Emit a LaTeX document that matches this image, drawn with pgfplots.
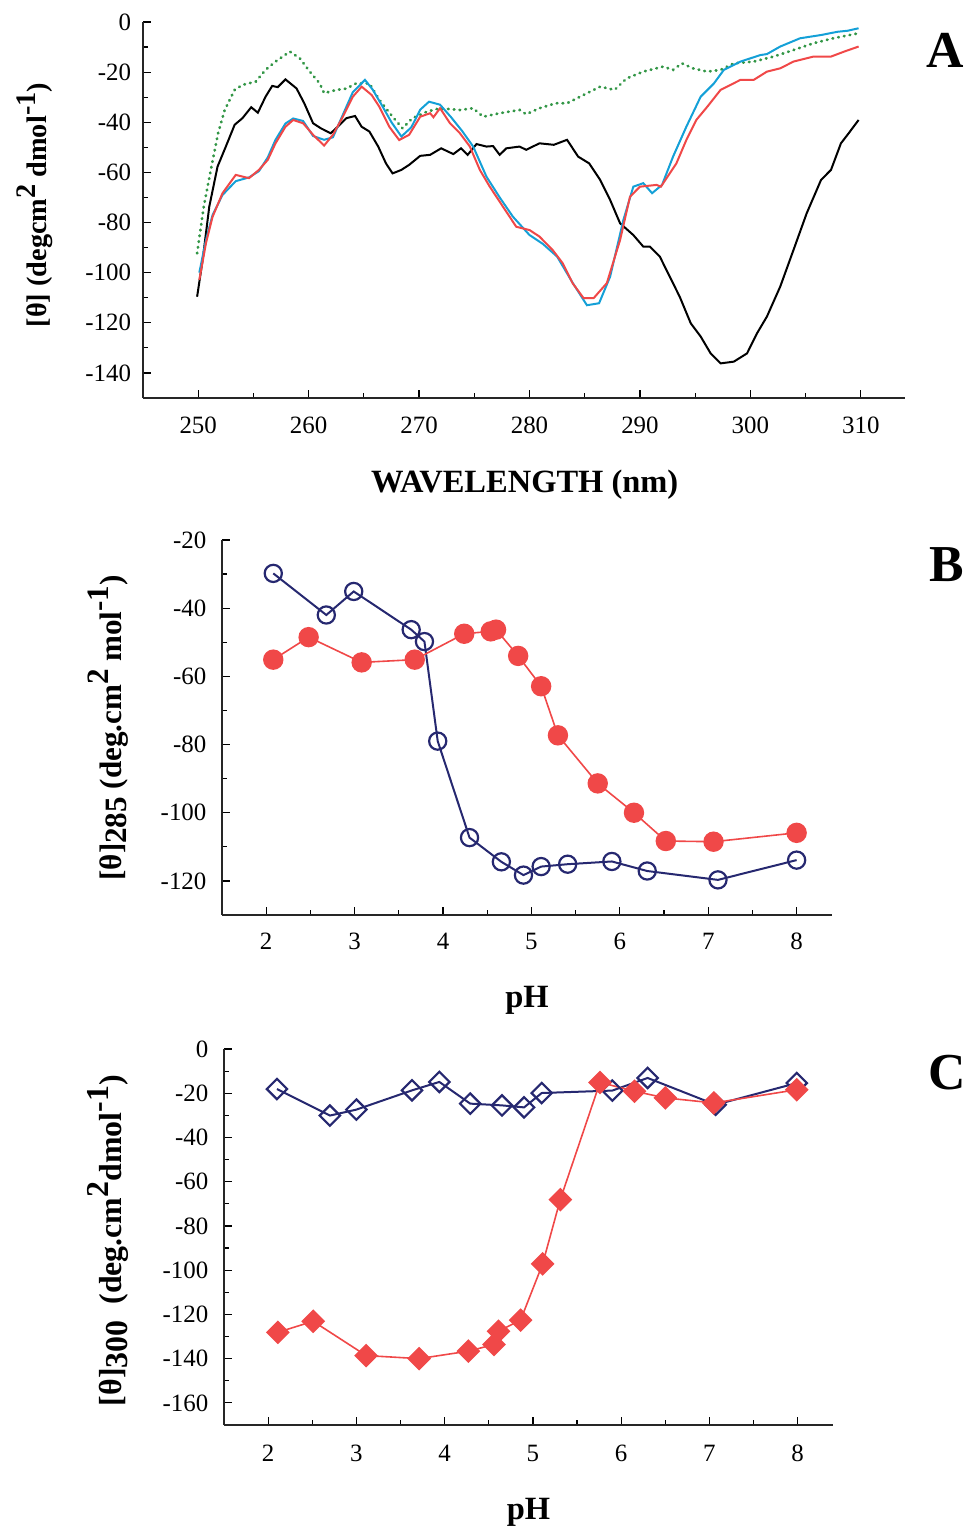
\documentclass[border=0pt]{standalone}
\usepackage{fontspec}
\setmainfont{Liberation Serif}
\usepackage{pgfplots}
\pgfplotsset{compat=1.18}
\definecolor{navy}{RGB}{38,40,112}
\definecolor{myred}{RGB}{240,72,72}
\definecolor{mycyan}{RGB}{20,160,215}
\definecolor{mygreen}{RGB}{50,150,70}
\pgfplotsset{common/.style={scale only axis, anchor=south west,
  axis x line*=bottom, axis y line*=left, tick align=inside,
  major tick length=4bp, minor tick length=2.5bp,
  every tick/.style={black, line width=0.6bp},
  axis line style={line width=0.8bp, black!85},
  tick label style={font=\fontsize{12.5}{14}\selectfont},
  /pgf/number format/assume math mode=true,
  xlabel style={font=\bfseries\fontsize{16.3}{18}\selectfont, anchor=center},
  ylabel style={font=\bfseries\fontsize{15.6}{18}\selectfont, anchor=center},
  clip=false}}
\begin{document}
\begin{tikzpicture}
\path[use as bounding box] (0,0) rectangle (483.5bp,764.5bp);
% Panel A
\begin{axis}[common, at={(71.5bp,565.5bp)}, width=381bp, height=188bp,
  xmin=245, xmax=314, ymin=-150, ymax=0,
  xtick={250,260,...,310}, minor xtick={255,265,...,305},
  ytick={-140,-120,...,0}, minor ytick={-150,-130,...,-10},
  xticklabel style={yshift=-6bp}, yticklabel style={xshift=-2.5bp},
  xlabel={WAVELENGTH (nm)},
  xlabel style={at={(axis description cs:0.501,-0.231)}},
  ylabel={[θ] (degcm\raisebox{0.9ex}{2} dmol\raisebox{0.9ex}{-1})},
  ylabel style={at={(axis description cs:-0.142,0.513)}, font=\bfseries\fontsize{14.2}{16}\selectfont}]
\addplot[black, line width=1bp] coordinates {(249.9,-109.6)(250.4,-95)(251.0,-73.7)(251.75,-57.7)(252.5,-49.7)(253.3,-41)(254,-38.4)(254.8,-34)(255.4,-36.2)(256.1,-29.8)(256.7,-25.5)(257.2,-26)(257.9,-22.9)(258.9,-26.5)(259.6,-32.4)(260.4,-40.4)(261.1,-42.4)(262.0,-44.4)(262.8,-41.1)(263.4,-38.4)(264.2,-37.5)(264.8,-41.8)(265.5,-43.7)(266.3,-49.7)(267.0,-56.4)(267.6,-60.4)(268.4,-59)(269.1,-57)(270.1,-53.4)(271.0,-53)(272.0,-50.4)(273.1,-52.7)(273.8,-50.4)(274.4,-53)(275.2,-48.7)(276.1,-49.7)(276.7,-49.5)(277.3,-53)(277.9,-50.4)(279.1,-49.7)(279.7,-51)(280.9,-48.4)(282.2,-49)(283.4,-47)(284.4,-53.7)(285.4,-56.4)(286.4,-63)(287.3,-71)(288.2,-80.3)(289.4,-85)(290.3,-89.6)(290.9,-89.6)(291.8,-93.6)(292.7,-101.6)(293.6,-109.6)(294.6,-120.2)(295.5,-125.5)(296.4,-132.2)(297.3,-136.2)(298.5,-135.5)(299.7,-132.2)(300.6,-124.2)(301.5,-117.5)(302.7,-105.6)(303.9,-91)(305.1,-76.3)(306.4,-63)(307.3,-59)(308.2,-48.4)(308.9,-44.4)(309.8,-39.1)};
\addplot[mygreen, line width=1.4bp, line cap=round, dash pattern=on 0.3bp off 2.6bp] coordinates {(249.9,-92.3)(250.5,-73.7)(251.2,-57.7)(251.8,-44.4)(252.4,-35.1)(253.3,-27.1)(254.0,-25.1)(255.2,-23.8)(256.1,-19.1)(257.0,-15.8)(258.3,-11.8)(259.2,-14.5)(260.1,-19.8)(261.0,-24.5)(261.4,-28.4)(262.5,-27.1)(263.4,-26.6)(264.3,-24.5)(265.5,-24.5)(266.4,-31.1)(267.6,-37.8)(268.5,-42.4)(269.4,-38.4)(270.7,-35.8)(271.9,-34.4)(273.7,-35.1)(274.9,-34.4)(275.8,-37.8)(277.3,-36.4)(279.1,-35.1)(279.7,-36.8)(280.9,-34.4)(282.4,-32.4)(283.4,-32.4)(284.9,-29.1)(286.4,-25.8)(287.7,-27.1)(288.8,-22.5)(290.3,-19.8)(292.1,-17.8)(293.0,-19.1)(293.8,-16.5)(294.8,-18.5)(296.1,-19.8)(297.3,-19.1)(298.5,-16.5)(300.3,-15.8)(302.1,-13.8)(303.9,-11.2)(305.7,-8.5)(307.5,-6.5)(309.8,-4.5)};
\addplot[mycyan, line width=1bp] coordinates {(250.1,-100)(250.7,-87)(251.3,-77)(252.2,-69)(253.4,-63.5)(254.6,-62)(255.5,-59.5)(256.3,-54)(257.0,-47)(257.9,-40.5)(258.6,-38.5)(259.5,-39.5)(260.4,-45.5)(261.4,-47)(262.2,-46)(263.1,-37)(264.0,-28)(265.1,-23.1)(265.8,-27)(266.6,-33)(267.5,-40)(268.4,-45.7)(269.3,-42)(270.1,-35)(270.9,-31.8)(271.9,-33)(272.9,-38)(273.9,-43.5)(274.9,-49.7)(276.1,-61.7)(277.3,-70)(278.5,-77.7)(280,-85)(281.2,-88.5)(282.5,-93.6)(283.9,-104)(285.2,-113)(286.3,-112.2)(287.3,-101.6)(288.5,-79)(289.4,-65.7)(290.3,-64.3)(291.1,-68.3)(292,-65)(293.0,-53.7)(294.2,-41.8)(295.5,-29.8)(296.7,-24.5)(297.6,-19.1)(299.1,-15.8)(300.9,-13.2)(301.5,-12.8)(302.7,-9.8)(304.5,-6.5)(306.4,-5.2)(307.9,-3.9)(308.8,-3.5)(309.8,-2.5)};
\addplot[myred, line width=1bp] coordinates {(250.1,-102.9)(250.7,-88.3)(251.3,-77.7)(252.2,-68.3)(253.4,-61)(254.6,-62.3)(255.5,-59)(256.3,-55)(257.0,-48.4)(257.9,-41.8)(258.6,-39.1)(259.5,-40.4)(260.4,-45)(261.4,-49.3)(262.2,-45)(263.1,-37.8)(264.0,-29.8)(264.8,-25.8)(265.7,-29.1)(266.4,-33.8)(267.3,-41.8)(268.2,-47.1)(269.1,-45)(270.1,-37.8)(271.0,-36.4)(271.3,-38)(271.9,-34.4)(272.8,-40.4)(273.7,-44.4)(274.6,-49.7)(275.5,-59)(276.4,-65.7)(277.6,-73.7)(278.8,-81.7)(280.0,-83)(280.9,-85.6)(282.1,-91)(283.0,-96.2)(283.9,-104.2)(284.9,-110.2)(285.8,-110.2)(287.0,-104.2)(288.2,-87)(289.1,-69.7)(290.0,-65.7)(291.5,-65)(291.9,-65.7)(293.3,-56.4)(294.2,-47.1)(295.1,-39.1)(296.1,-33.8)(297.3,-27.1)(299.1,-23.1)(300.3,-23.1)(301.5,-19.8)(302.7,-18.5)(303.9,-15.8)(305.7,-13.8)(307.3,-13.8)(308.5,-11.8)(309.8,-9.8)};
\end{axis}
% Panel B
\begin{axis}[common, at={(111bp,307bp)}, width=305bp, height=187.5bp,
  xmin=1.5, xmax=8.4, ymin=-130, ymax=-20,
  xtick={2,3,...,8}, minor xtick={2.5,3.5,...,7.5},
  ytick={-120,-100,...,-20}, minor ytick={-130,-110,...,-30},
  xticklabel style={yshift=-5.5bp}, yticklabel style={xshift=-4.3bp},
  xlabel={pH},
  xlabel style={at={(axis description cs:0.5,-0.227)}},
  ylabel={[θ]\raisebox{-0.4ex}{285} (deg.cm\raisebox{0.9ex}{2} mol\raisebox{0.9ex}{-1})},
  ylabel style={at={(axis description cs:-0.187,0.499)}}]
\addplot[navy, line width=1bp, mark=o, mark size=4.3bp, mark options={fill=white, line width=1.1bp}] coordinates {(2.08,-29.8)(2.68,-42.0)(2.99,-35.1)(3.64,-46.3)(3.79,-49.8)(3.94,-79.0)(4.30,-107.3)(4.66,-114.4)(4.91,-118.3)(5.11,-115.8)(5.41,-115.1)(5.91,-114.3)(6.31,-117.1)(7.11,-119.7)(8.0,-113.9)};
\addplot[myred, line width=0.8bp, mark=*, mark size=4.7bp, mark options={fill=myred, draw=myred}] coordinates {(2.08,-55.1)(2.48,-48.5)(3.08,-55.9)(3.68,-55.1)(4.24,-47.5)(4.54,-46.8)(4.60,-46.3)(4.85,-54.0)(5.11,-62.9)(5.30,-77.3)(5.75,-91.4)(6.16,-100.0)(6.52,-108.3)(7.06,-108.5)(8.0,-105.9)};
\end{axis}
% Panel C
\begin{axis}[common, at={(112bp,52bp)}, width=304.5bp, height=188bp,
  xmin=1.5, xmax=8.4, ymin=-170, ymax=0,
  xtick={2,3,...,8}, minor xtick={2.5,3.5,...,7.5},
  ytick={-160,-140,...,0}, minor ytick={-170,-150,...,-10},
  xticklabel style={yshift=-6.5bp}, yticklabel style={xshift=-4.3bp},
  xlabel={pH},
  xlabel style={at={(axis description cs:0.5,-0.231)}},
  ylabel={[θ]\raisebox{-0.4ex}{300}\ \ (deg.cm\raisebox{0.9ex}{2}dmol\raisebox{0.9ex}{-1})},
  ylabel style={at={(axis description cs:-0.19,0.49)}, font=\bfseries\fontsize{16}{18}\selectfont}]
\addplot[navy, line width=1bp, mark=square, mark size=3.6bp, mark options={rotate=45, fill=white, line width=1.1bp}] coordinates {(2.10,-18.1)(2.70,-30.1)(3.00,-27.4)(3.63,-18.7)(3.94,-14.9)(4.29,-24.7)(4.65,-25.5)(4.90,-26.4)(5.10,-19.9)(5.90,-18.8)(6.30,-13.1)(7.07,-25.2)(7.99,-15.4)};
\addplot[myred, line width=0.8bp, mark=square*, mark size=3.8bp, mark options={rotate=45, fill=myred, draw=myred}] coordinates {(2.11,-128.1)(2.51,-123.1)(3.11,-138.6)(3.71,-140.0)(4.27,-136.6)(4.56,-133.6)(4.61,-127.6)(4.86,-122.6)(5.11,-97.2)(5.31,-68.1)(5.76,-15.1)(6.15,-19.1)(6.50,-22.1)(7.05,-24.4)(7.99,-18.4)};
\end{axis}
\node[font=\bfseries\fontsize{26}{30}\selectfont] at (472.5bp,739.5bp) {A};
\node[font=\bfseries\fontsize{26}{30}\selectfont] at (473.5bp,482bp) {B};
\node[font=\bfseries\fontsize{26}{30}\selectfont] at (473.5bp,228bp) {C};
\end{tikzpicture}
\end{document}
